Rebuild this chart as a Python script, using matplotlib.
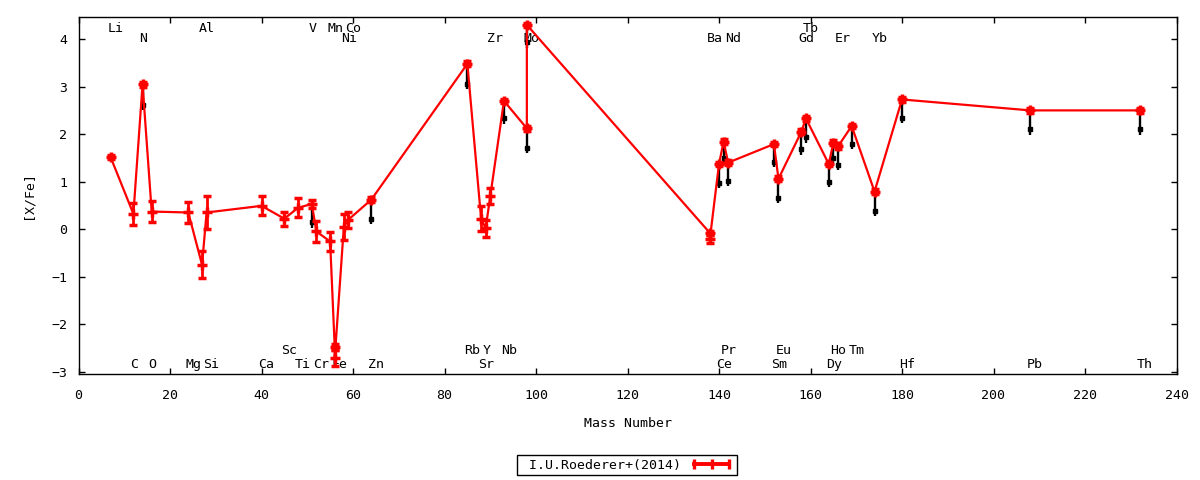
import matplotlib
matplotlib.use("Agg")
import matplotlib.pyplot as plt
from matplotlib.lines import Line2D
from matplotlib.legend_handler import HandlerLine2D

plt.rcParams['font.family'] = ['DejaVu Sans Mono']
plt.rcParams['font.size'] = 9.5

# ---- data: [X/Fe] vs mass number (I.U.Roederer+ 2014) ----
mass = [7, 12, 14, 16, 24, 27, 28, 40, 45, 48, 51, 52, 55, 56, 56, 58, 59, 64,
        85, 88, 89, 90, 93, 98, 98, 138, 138, 140, 141, 142, 152, 153, 158, 159,
        164, 165, 166, 169, 174, 180, 208, 232]
xfe = [1.52, 0.32, 3.05, 0.37, 0.35, -0.75, 0.35, 0.49, 0.22, 0.45, 0.53, -0.05,
       -0.26, -2.48, -2.72, 0.05, 0.20, 0.62, 3.48, 0.22, 0.02, 0.69, 2.70, 2.12,
       4.30, -0.08, -0.21, 1.37, 1.84, 1.40, 1.79, 1.06, 2.05, 2.33, 1.37, 1.82,
       1.74, 2.17, 0.79, 2.73, 2.50, 2.50]
err = [0.05, 0.24, 0.05, 0.22, 0.22, 0.28, 0.35, 0.20, 0.15, 0.20, 0.08, 0.22,
       0.20, 0.07, 0.17, 0.27, 0.17, 0.05, 0.05, 0.27, 0.18, 0.17, 0.05, 0.05,
       0.05, 0.05, 0.09, 0.05, 0.05, 0.05, 0.05, 0.05, 0.05, 0.05, 0.05, 0.05,
       0.05, 0.05, 0.05, 0.05, 0.05, 0.05]

# black downward arrows (from value to lower end)
arr_mass = [14, 51, 64, 85, 93, 98, 98, 140, 141, 142, 152, 153, 158, 159, 164,
            165, 166, 169, 174, 180, 208, 232]
arr_top = [3.05, 0.53, 0.62, 3.48, 2.70, 2.12, 4.30, 1.37, 1.84, 1.40, 1.79, 1.06,
           2.05, 2.33, 1.37, 1.82, 1.74, 2.17, 0.79, 2.73, 2.50, 2.50]
arr_low = [2.50, 0.03, 0.10, 2.95, 2.22, 1.60, 3.82, 0.86, 1.38, 0.90, 1.30, 0.55,
           1.57, 1.82, 0.88, 1.38, 1.25, 1.68, 0.27, 2.24, 1.99, 1.99]

# element labels: (name, mass, row)
lab_names = ['Li', 'Al', 'V', 'Mn', 'Co', 'Tb',
             'N', 'Ni', 'Zr', 'Mo', 'Ba', 'Nd', 'Gd', 'Er', 'Yb',
             'Sc', 'Rb', 'Y', 'Nb', 'Pr', 'Eu', 'Ho', 'Tm',
             'C', 'O', 'Mg', 'Si', 'Ca', 'Ti', 'Cr', 'Fe', 'Zn', 'Sr', 'Ce', 'Sm',
             'Dy', 'Hf', 'Pb', 'Th']
lab_mass = [7, 27, 51, 55, 59, 159,
            14, 58, 90, 98, 138, 142, 158, 166, 174,
            45, 85, 89, 93, 141, 153, 165, 169,
            12, 16, 24, 28, 40, 48, 52, 56, 64, 88, 140, 152, 164, 180, 208, 232]
lab_row = [0] * 6 + [1] * 9 + [2] * 8 + [3] * 16
row_y = [4.23, 4.02, -2.55, -2.85]

xticks = list(range(0, 241, 20))
yticks = [-3, -2, -1, 0, 1, 2, 3, 4]

fig = plt.figure(figsize=(12, 4.8), dpi=100)
ax = fig.add_axes([78.5 / 1200, 1 - 373.5 / 480, 1098 / 1200, 356.2 / 480])

# element labels (behind data)
for name, m, r in zip(lab_names, lab_mass, lab_row):
    ax.annotate(name, (m, row_y[r]), xytext=(-2.2, 0), textcoords='offset points',
                ha='left', va='center', fontsize=9.5, zorder=1)

# black arrows
ax.vlines(arr_mass, arr_low, arr_top, color='black', lw=1.7, zorder=2)
ax.plot(arr_mass, [v + 0.11 for v in arr_low], ls='none', marker='s', ms=3.4,
        color='black', mec='black', zorder=2)

# red data with error bars
ax.errorbar(mass, xfe, yerr=err, color='red', lw=1.6, marker='+', ms=7, mew=2.5,
            capsize=3.0, capthick=2.3, elinewidth=2.0, zorder=3)

ax.set_xlim(0, 240)
ax.set_ylim(-3.04, 4.46)
ax.set_xticks(xticks)
ax.set_yticks(yticks)
ax.tick_params(direction='in', top=True, right=True, length=4, width=1,
               labelsize=9.5)
ax.tick_params(axis='x', pad=11)
ax.tick_params(axis='y', pad=8)
for s in ax.spines.values():
    s.set_linewidth(1)
ax.set_xlabel('Mass Number', fontsize=9.5, labelpad=11)
ax.set_ylabel('[X/Fe]', fontsize=9.5, labelpad=12)

# legend in gnuplot style
h = Line2D([], [], color='red', lw=2.8, marker='|', ms=7, mew=2.4)
leg = fig.legend([h], [' I.U.Roederer+(2014)'], loc='center',
                 bbox_to_anchor=(627 / 1200, 1 - 465 / 480),
                 handler_map={h: HandlerLine2D(numpoints=3)},
                 markerfirst=False, handlelength=3.3, handletextpad=0.7,
                 borderpad=0.25, fancybox=False, framealpha=1, edgecolor='black',
                 fontsize=9.5)
leg.get_frame().set_linewidth(1)

fig.savefig('out.png', dpi=100)
